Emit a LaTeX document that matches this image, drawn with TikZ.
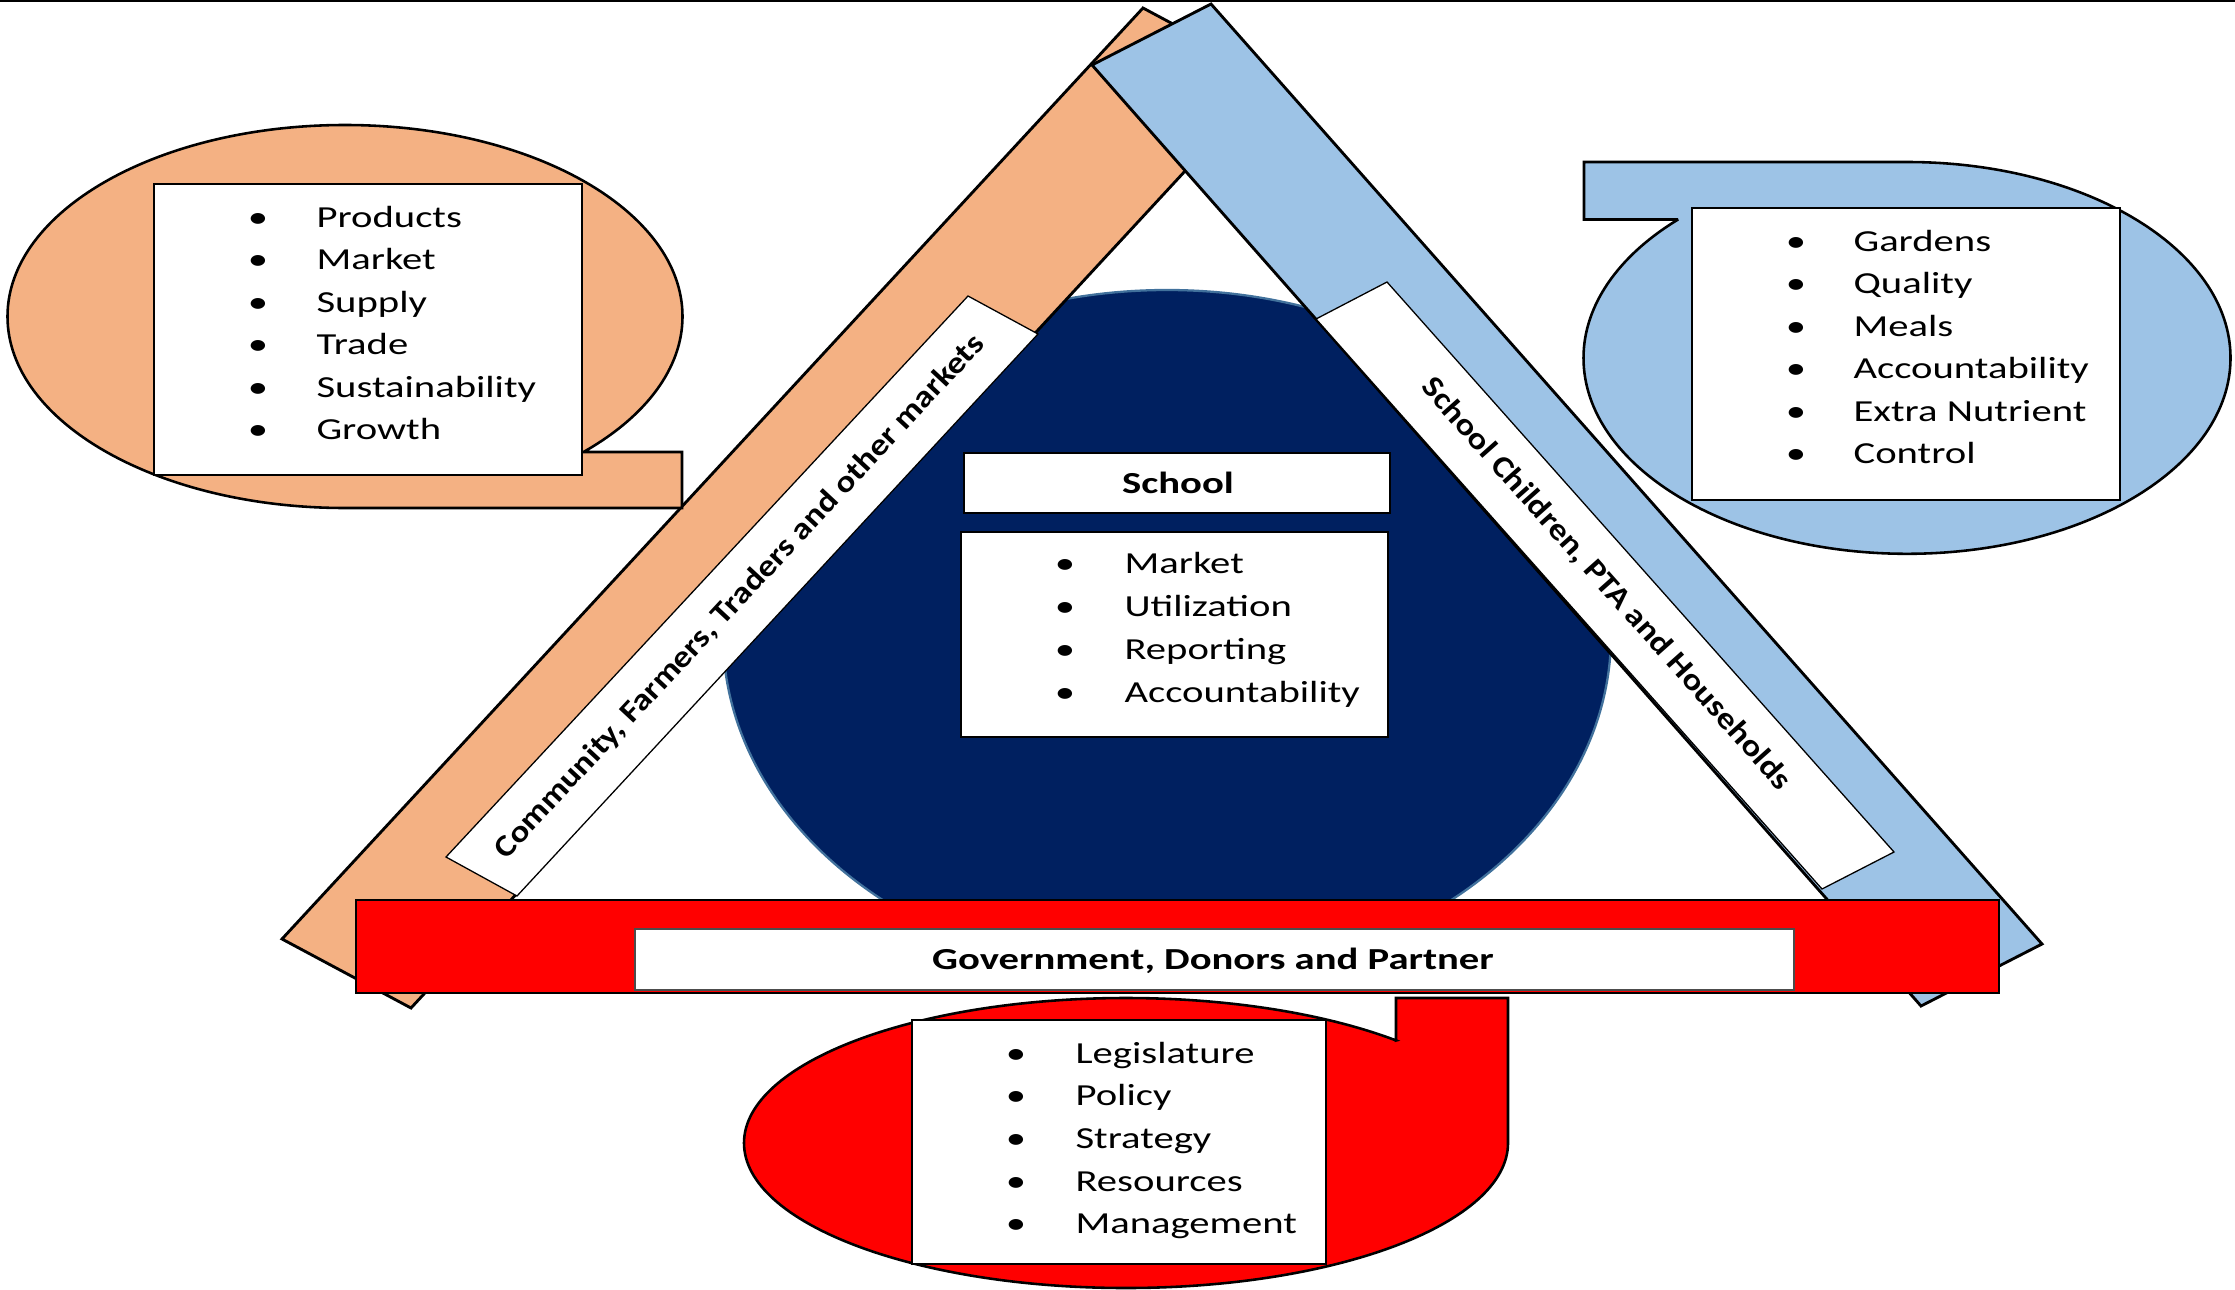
\documentclass[tikz,border=0pt]{standalone}
\usepackage{fontspec}
\setmainfont{Carlito}[FakeStretch=1.33]
\newfontfamily\lblfont{Carlito}[FakeStretch=1.15]
\definecolor{orng}{HTML}{F4B183}
\definecolor{lblue}{HTML}{9DC3E6}
\definecolor{navyfill}{HTML}{002060}
\definecolor{navyedge}{HTML}{41719C}
\begin{document}
\begin{tikzpicture}[x=0.35pt,y=-0.35pt,
  band/.style={draw=black,line width=1pt,line join=miter},
  lbl/.style={draw=black,fill=white,line width=0.45pt},
  box/.style={draw=black,fill=white,line width=0.7pt},
  callout/.style={draw=black,line width=0.9pt},
  itm/.style={inner sep=0pt,anchor=base west,font=\fontsize{10.7}{13}\selectfont},
  bul/.style={inner sep=0pt,anchor=base,font=\fontsize{10.7}{13}\selectfont},
  ttl/.style={inner sep=0pt,anchor=base,font=\fontsize{10.7}{13}\selectfont\bfseries},
  lbltxt/.style={inner sep=0pt,font=\lblfont\fontsize{10.7}{13}\selectfont\bfseries},
]
\useasboundingbox (0,0) rectangle (2235,1290);
\draw[line width=0.6pt] (0,1) -- (2235,1);

% central navy ellipse
\path[fill=navyfill,draw=navyedge,line width=0.8pt] (1167,635) ellipse [x radius=444, y radius=345];

% bands
\path[band,fill=orng] (1143,8) -- (1272,77) -- (411,1008) -- (282,939) -- cycle;
\path[band,fill=lblue] (1211,4) -- (2042,944) -- (1921,1006) -- (1092,65) -- cycle;

% diagonal labels
\path[lbl] (968,296) -- (1038,334) -- (517,896) -- (446,857) -- cycle;
\path[lbl] (1387,282) -- (1894,852) -- (1822,889) -- (1316,319) -- cycle;
\node[lbltxt,rotate=47.06] (community) at (740,597) {Community, Farmers, Traders and other markets};
\node[lbltxt,rotate=-48.35] (children) at (1606,584) {School Children, PTA and Households};

% red band
\path[draw=black,line width=1pt,fill=red] (356,900) rectangle (1999,993);
\path[draw=black!70,line width=0.4pt,fill=white] (635,929) rectangle (1794,990);
\node[ttl] (gov) at (1213,969) {Government, Donors and Partner};

% orange callout
\path[callout,fill=orng] (583.5,452) -- (682,452) -- (682,508) -- (345,508)
  arc[start angle=90,end angle=405,x radius=337.5,y radius=191.5] -- cycle;
\path[box] (154,184) rectangle (582,475);
\foreach \t [count=\i from 0] in {Products,Market,Supply,Trade,Sustainability,Growth} {
  \node[bul] (ob\i) at (258,{227+42.5*\i}) {•};
  \node[itm] (ot\i) at (316,{227+42.5*\i}) {\t};
}

% blue callout
\path[callout,fill=lblue] (1678,219.5) -- (1584,219.5) -- (1584,162) -- (1907,162)
  arc[start angle=270,end angle=585,x radius=323.5,y radius=195.9] -- cycle;
\path[box,line width=0.5pt] (1692,208) rectangle (2120,500);
\foreach \t [count=\i from 0] in {Gardens,Quality,Meals,Accountability,Extra Nutrient,Control} {
  \node[bul] (bb\i) at (1796,{251.4+42.5*\i}) {•};
  \node[itm] (bt\i) at (1853,{251.4+42.5*\i}) {\t};
}

% red callout
\path[callout,fill=red] (1396,1040.5) -- (1396,998) -- (1508,998) -- (1508,1143)
  arc[start angle=0,end angle=315,x radius=382,y radius=145] -- cycle;
\path[box] (912,1020) rectangle (1326,1264);
\foreach \t [count=\i from 0] in {Legislature,Policy,Strategy,Resources,Management} {
  \node[bul] (rb\i) at (1016,{1063+42.7*\i}) {•};
  \node[itm] (rt\i) at (1075,{1063+42.7*\i}) {\t};
}

% school boxes
\path[box] (963.6,453) rectangle (1389.8,513);
\node[ttl] (school) at (1178,493) {School};
\path[box] (960.7,532) rectangle (1388,737);
\foreach \t [count=\i from 0] in {Market,Utilization,Reporting,Accountability} {
  \node[bul] (sb\i) at (1065,{573.5+43*\i}) {•};
  \node[itm] (st\i) at (1124,{573.5+43*\i}) {\t};
}
\end{tikzpicture}
\end{document}
